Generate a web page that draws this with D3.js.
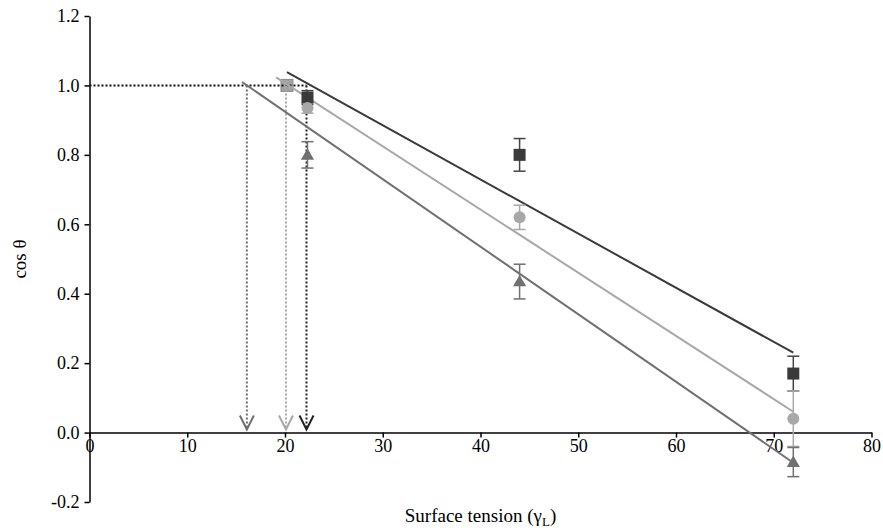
<!DOCTYPE html>
<html><head><meta charset="utf-8">
<script src="https://cdn.jsdelivr.net/npm/d3@7"></script>
<style>body{margin:0;background:#fff}svg{display:block}svg text{font-family:"Liberation Serif","DejaVu Serif","Times New Roman",serif !important;fill:#000}</style>
</head><body><svg id="c" width="883" height="531"></svg>
<script>
// ---- data ----
const xTicks = [0,10,20,30,40,50,60,70,80];
const yTicks = [-0.2,0,0.2,0.4,0.6,0.8,1.0,1.2];
const yTickLabels = ["-0.2","0.0","0.2","0.4","0.6","0.8","1.0","1.2"];
const surfaceTension = [22.3, 44, 72];
const squareVals = [0.965, 0.80, 0.17];
const squareErr  = [0.02, 0.047, 0.05];
const circleVals = [0.935, 0.62, 0.04];
const circleErr  = [0.015, 0.035, 0.08];
const triangleVals = [0.80, 0.435, -0.085];
const triangleErr  = [0.038, 0.05, 0.042];
const sharedPoint = [20.2, 1.0];
// trend lines: [x1, y1, x2, y2]
const squareTrend   = [20.2, 1.038, 72, 0.23];
const circleTrend   = [19.1, 1.023, 72, 0.06];
const triangleTrend = [15.6, 1.01, 72, -0.087];
// critical surface tensions (dotted drop lines)
const criticalX = [16.1, 20.1, 22.2];

// ---- layout ----
const FONT = '"Liberation Serif","DejaVu Serif","Times New Roman",serif';
const svg = d3.select("#c");
const x = d3.scaleLinear().domain([0,80]).range([89.5,871.5]);
const y = d3.scaleLinear().domain([-0.2,1.2]).range([502,16]);
const cDark="#3a3a3a", cLight="#a8a8a8", cMid="#707070";

// y axis
const yAxis = d3.axisLeft(y).tickValues(yTicks).tickFormat((d,i)=>yTickLabels[i]).tickSize(5).tickSizeOuter(0).tickPadding(5);
const gy = svg.append("g").attr("transform",`translate(${x(0)},0)`).call(yAxis).attr("font-family",FONT).attr("font-size",18);
gy.select(".domain").attr("stroke","#000").attr("stroke-width",1.5);
gy.selectAll(".tick line").attr("stroke","#000").attr("stroke-width",1.5);

// x axis
const xAxis = d3.axisBottom(x).tickValues(xTicks).tickSize(5).tickSizeOuter(0).tickPadding(2);
const gx = svg.append("g").attr("transform",`translate(0,${y(0)})`).call(xAxis).attr("font-family",FONT).attr("font-size",18);
gx.select(".domain").attr("stroke","#000").attr("stroke-width",1.5);
gx.selectAll(".tick line").attr("stroke","#000").attr("stroke-width",1.5);

// axis titles
svg.append("text").attr("transform",`translate(26,${y(0.5)}) rotate(-90)`).attr("text-anchor","middle")
  .attr("font-family",FONT).style("font-size","19px").text("cos θ");
const xt = svg.append("text").attr("x",x(40)).attr("y",522).attr("text-anchor","middle")
  .attr("font-family",FONT).style("font-size","19px");
xt.append("tspan").text("Surface tension (γ");
xt.append("tspan").attr("dy",4).style("font-size","13px").text("L");
xt.append("tspan").attr("dy",-4).text(")");

// shared point at (20.2, 1.0)
svg.append("rect").attr("x",x(sharedPoint[0])-6).attr("y",y(sharedPoint[1])-6).attr("width",12).attr("height",12)
  .attr("fill","#a3a3a3").attr("stroke","#8c8c8c").attr("stroke-width",1);

// dotted lines
svg.append("line").attr("x1",x(0)).attr("x2",x(criticalX[2])).attr("y1",y(1)).attr("y2",y(1))
  .attr("stroke","#111").attr("stroke-width",2).attr("stroke-dasharray","2,2");
const dropCols=[cMid,cLight,"#222"];
criticalX.forEach((cx,i)=>{
  svg.append("line").attr("x1",x(cx)).attr("x2",x(cx)).attr("y1",y(1)).attr("y2",y(0)-4)
    .attr("stroke",dropCols[i]).attr("stroke-width",2).attr("stroke-dasharray","2,2");
  const tx=x(cx), ty=y(0)-3;
  svg.append("path").attr("d",`M${tx-7},${ty-14}L${tx},${ty}L${tx+7},${ty-14}`)
    .attr("fill","none").attr("stroke",dropCols[i]).attr("stroke-width",2);
});

// trend lines
[[squareTrend,cDark],[circleTrend,cLight],[triangleTrend,cMid]].forEach(([t,c])=>{
  svg.append("line").attr("x1",x(t[0])).attr("y1",y(t[1])).attr("x2",x(t[2])).attr("y2",y(t[3]))
    .attr("stroke",c).attr("stroke-width",2);
});

// error bars + markers
function errBars(vals,errs,col){
  surfaceTension.forEach((sx,i)=>{
    const cx=x(sx);
    svg.append("line").attr("x1",cx).attr("x2",cx).attr("y1",y(vals[i]+errs[i])).attr("y2",y(vals[i]-errs[i])).attr("stroke",col).attr("stroke-width",1.5);
    [vals[i]+errs[i],vals[i]-errs[i]].forEach(v=>{
      svg.append("line").attr("x1",cx-6).attr("x2",cx+6).attr("y1",y(v)).attr("y2",y(v)).attr("stroke",col).attr("stroke-width",1.5);
    });
  });
}
errBars(squareVals,squareErr,"#444");
errBars(circleVals,circleErr,cLight);
errBars(triangleVals,triangleErr,cMid);

surfaceTension.forEach((sx,i)=>{
  svg.append("rect").attr("x",x(sx)-6).attr("y",y(squareVals[i])-6).attr("width",12).attr("height",12).attr("fill",cDark);
  svg.append("circle").attr("cx",x(sx)).attr("cy",y(circleVals[i])).attr("r",6).attr("fill",cLight);
  svg.append("path").attr("d",d3.symbol(d3.symbolTriangle,75)()).attr("transform",`translate(${x(sx)},${y(triangleVals[i])+1})`).attr("fill",cMid);
});
</script></body></html>
